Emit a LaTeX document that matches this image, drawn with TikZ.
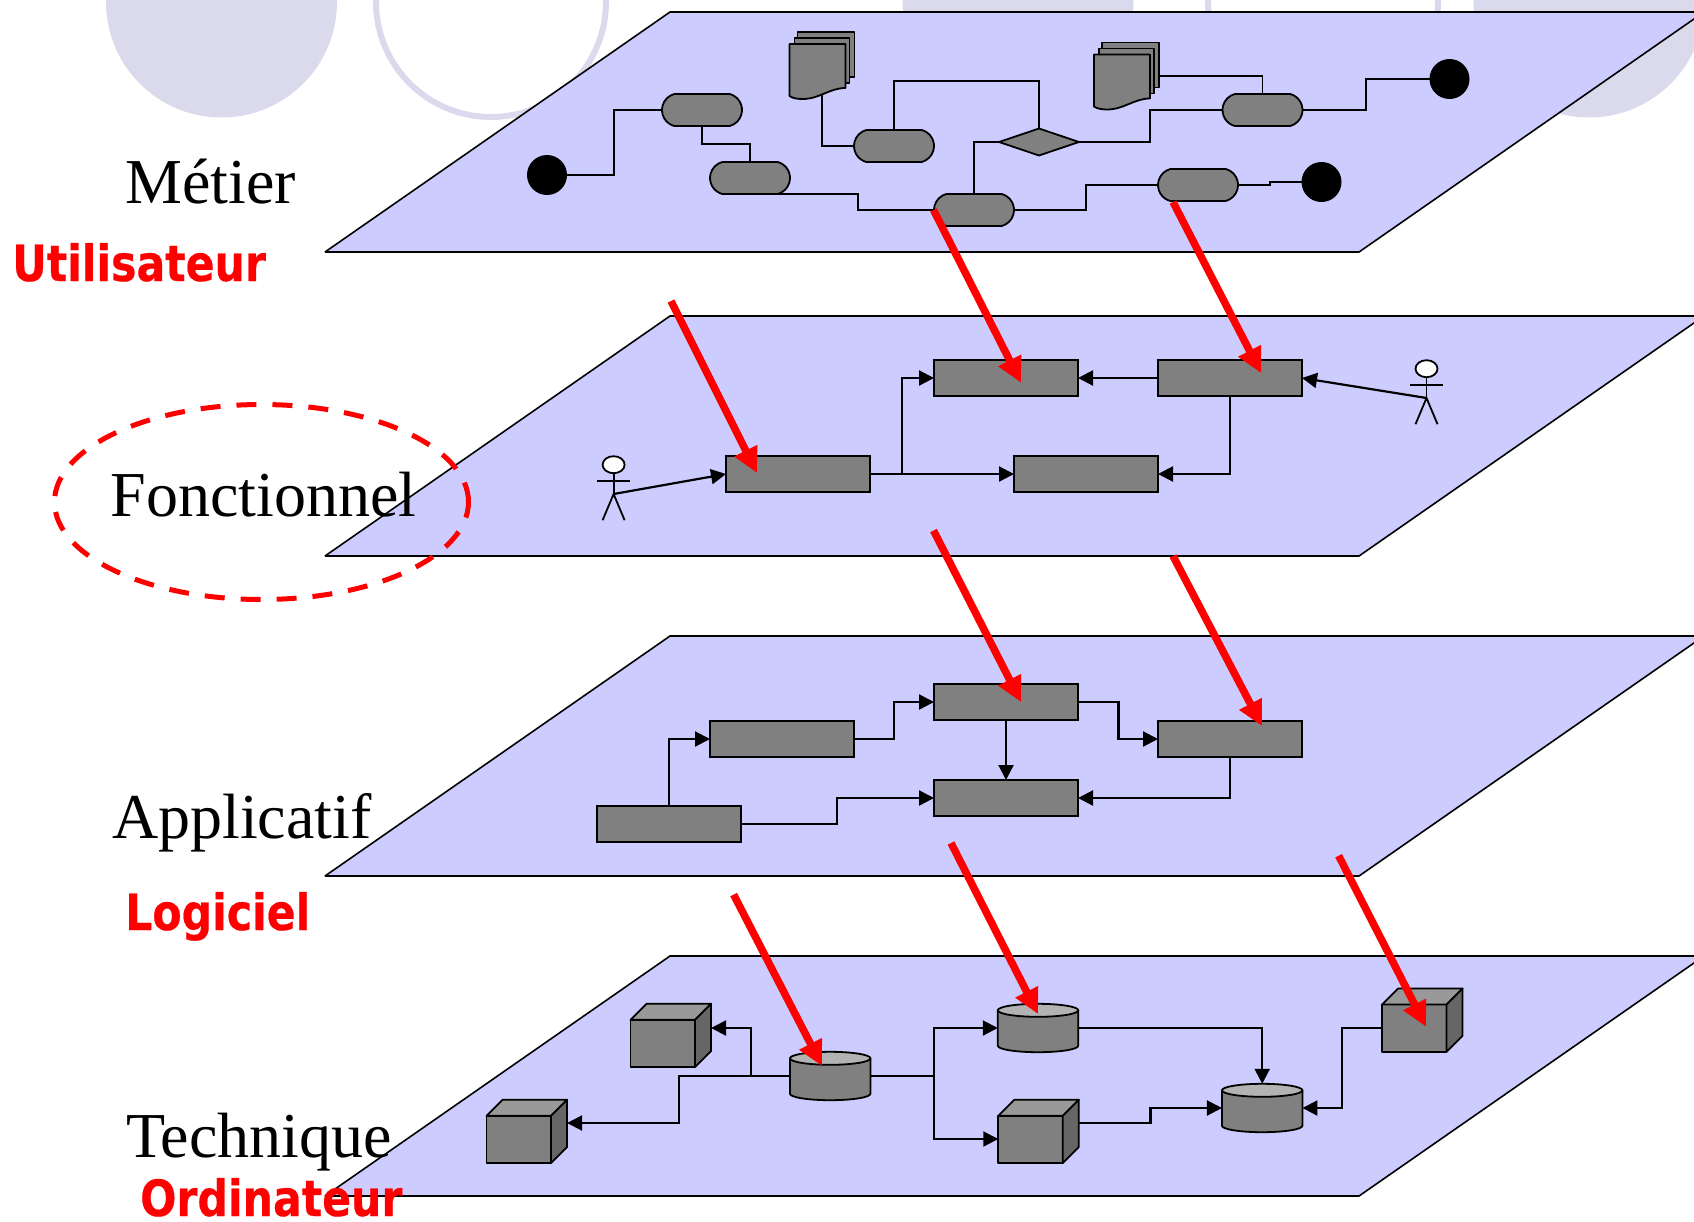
\documentclass[tikz,border=0pt]{standalone}
\usepackage{fontspec}
\setmainfont{Liberation Serif}
\newfontfamily\redfont[FakeStretch=0.853,FakeBold=0.4]{DejaVu Sans}
\usetikzlibrary{arrows.meta,calc,shapes.geometric,shapes.misc}
\definecolor{planeBlue}{HTML}{CCCCFF}
\definecolor{discBlue}{HTML}{DADAEC}
\definecolor{stepGrey}{HTML}{808080}
\definecolor{cylTop}{HTML}{B3B3B3}
\definecolor{cubeTop}{HTML}{999999}
\definecolor{cubeSide}{HTML}{666666}
\begin{document}
\begin{tikzpicture}
[x=1pt,y=-1pt,
  discDecorate/.style={fill=discBlue},
  ringDecorate/.style={draw=discBlue,line width=6pt},
  planeDecorate/.style={draw,fill=planeBlue,line width=1.6pt,line join=miter,miter limit=2},
  faceDecorate/.style={draw,line width=1.8pt,line join=round},
  boxDecorate/.style={shape=rectangle,draw,fill=stepGrey,line width=2pt,minimum width=144pt,minimum height=36pt,inner sep=0pt,outer sep=0pt},
  pillDecorate/.style={shape=rounded rectangle,rounded rectangle arc length=150,draw,fill=stepGrey,line width=1.8pt,minimum width=80pt,minimum height=32pt,inner sep=0pt,outer sep=0pt},
  dotDecorate/.style={shape=circle,fill=black,minimum size=40pt,inner sep=0pt,outer sep=0pt},
  gateDecorate/.style={shape=diamond,draw,fill=stepGrey,line width=1.8pt,minimum width=80pt,minimum height=27pt,inner sep=0pt,outer sep=0pt},
  frameDecorate/.style={shape=rectangle,minimum width=#1,inner sep=0pt,outer sep=0pt},
  headDecorate/.style={shape=ellipse,draw,fill=white,line width=1.8pt,minimum width=22pt,minimum height=17pt,inner sep=0pt,outer sep=0pt},
  lineDecorate/.style={-,line width=1.8pt},
  flowDecorate/.style={-{Triangle[length=15pt,width=15pt]},line width=2.2pt},
  redDecorate/.style={-{Triangle[length=25pt,width=24pt]},red,line width=7.5pt},
  nameDecorate/.style={anchor=base west,inner sep=0pt,font=\fontsize{64}{70}\selectfont},
  viewDecorate/.style={anchor=base west,inner sep=0pt,text=red,font=\redfont\bfseries\fontsize{50}{54}\selectfont}]
\useasboundingbox (0,0) rectangle (1694,1221);
\clip (0,0) rectangle (1694,1221);
%% discs behind the planes
\foreach \x in {221.5,1018,1589}
{
  \fill[discDecorate] (\x,2) circle[radius=115.5];
}
\foreach \x in {491,1323}
{
  \draw[ringDecorate] (\x,2) circle[radius=115];
}
%% planes
\foreach \dy in {0,304,624,944}
{
  \draw[planeDecorate] (670,12+\dy) -- (1704,12+\dy) -- (1359,252+\dy) -- (325,252+\dy) -- cycle;
}
%% first plane: frames, pills, dots
\foreach \docname/\x/\y in {doca/822/65.5, docb/1126.5/76}
{
  \node (\docname) at (\x,\y) [frameDecorate=65pt,minimum height=67pt] {};
}
\foreach \nodename/\x/\y in {
  pilla/702/110, pillb/750/178, pillc/974/210, pilld/1198/185,
  pille/894/146, pillf/1262.5/110}
{
  \node (\nodename) at (\x,\y) [pillDecorate] {};
}
\foreach \nodename/\x/\y in {dota/547/175, dotb/1321.5/182, dotc/1449.5/79}
{
  \node (\nodename) at (\x,\y) [dotDecorate] {};
}
\node (gate) at (1039,142) [gateDecorate] {};
\foreach \startnode/\xmid/\endnode in {
  dota.east/614/pilla.west, pillb.south/858/pillc.west,
  pillc.east/1086/pilld.west, pilld.east/1270/dotb.west,
  pillf.west/1150/gate.east, pillf.east/1366/dotc.west}
{
  \draw[lineDecorate] (\startnode) -| (\xmid,0 |- \endnode) -- (\endnode);
}
\draw[lineDecorate] (pilla.south) |- (pillb.north |- 0,144) -- (pillb.north);
\draw[lineDecorate] (gate.north) |- (pille.north |- 0,81) -- (pille.north);
\draw[lineDecorate] (pillc.north) |- (gate.west);
\draw[lineDecorate] (doca.center) |- (pille.west);
\draw[lineDecorate] (docb.center) -| (pillf.north);
\foreach \docname in {doca,docb}
{
  \begin{scope}[shift={(\docname.north west)}]
    \draw[faceDecorate,fill=stepGrey] (8,0) rectangle (65,45);
    \draw[faceDecorate,fill=stepGrey] (5,6) rectangle (60,51);
    \draw[faceDecorate,fill=stepGrey] (0,12) -- (56,12) -- (56,56)
      .. controls (40,56) and (30,67) .. (13,67)
      .. controls (7,67) and (3,66) .. (0,64) -- cycle;
  \end{scope}
}
%% second and third plane: boxes
\foreach \nodename/\x/\y in {
  boxa/798/474, boxb/1006/378, boxc/1230/378, boxd/1086/474,
  boxe/782/739, boxf/1006/702, boxg/1230/739, boxh/1006/798, boxi/669/824}
{
  \node (\nodename) at (\x,\y) [boxDecorate] {};
}
%% actors
\foreach \actorname/\x/\y in {actora/613.6/464.7, actorb/1426.5/368.7}
{
  \node (\actorname) at (\x,\y) [headDecorate] {};
  \coordinate (\actorname hip) at (\x,\y+29.3);
  \draw[lineDecorate] (\actorname.south) -- (\actorname hip);
  \draw[lineDecorate] (\x-16.5,\y+16) -- (\x+16.5,\y+16);
  \draw[lineDecorate] (\x-11,\y+55.5) -- (\actorname hip) -- (\x+11,\y+55.5);
}
%% edges of the second and third plane
\path
\foreach \startnode/\endnode in {
  actorahip/boxa.west, boxa.east/boxd.west, boxc.west/boxb.east,
  actorbhip/boxc.east, boxf.south/boxh.north}
{
  (\startnode) edge[flowDecorate] (\endnode)
};
\draw[flowDecorate] (boxa.east -| 902,0) |- (boxb.west);
\draw[flowDecorate] (boxc.south) |- (boxd.east);
\draw[flowDecorate] (boxi.north -| 669,0) |- (boxe.west);
\draw[flowDecorate] (boxg.south) |- (boxh.east);
\foreach \startnode/\xmid/\endnode in {
  boxi.east/837/boxh.west, boxe.east/894/boxf.west, boxf.east/1118.5/boxg.west}
{
  \draw[flowDecorate] (\startnode) -| (\xmid,0 |- \endnode) -- (\endnode);
}
%% fourth plane: cubes and cylinders
\foreach \nodename/\x/\y in {
  cubea/670.8/1035.4, cubeb/526.8/1131.4, cubec/1038.5/1131.4, cubed/1422.3/1020.2}
{
  \node (\nodename) at (\x,\y) [frameDecorate=80.5pt,minimum height=63.3pt] {};
  \begin{scope}[shift={(\nodename.north west)}]
    \draw[faceDecorate,fill=stepGrey] (0,16) rectangle (64.5,63.3);
    \draw[faceDecorate,fill=cubeTop] (0,16) -- (16,0) -- (80.5,0) -- (64.5,16) -- cycle;
    \draw[faceDecorate,fill=cubeSide] (64.5,16) -- (80.5,0) -- (80.5,47.3) -- (64.5,63.3) -- cycle;
  \end{scope}
}
\foreach \nodename/\x/\y in {cyla/830.2/1076, cylb/1038/1028, cylc/1262.2/1108}
{
  \node (\nodename) at (\x,\y) [frameDecorate=80.5pt,minimum height=48.4pt] {};
  \begin{scope}[shift={(\nodename.north west)}]
    \draw[faceDecorate,fill=stepGrey] (0,6.5) -- (0,41.9) arc[start angle=180,end angle=360,x radius=40.25,y radius=-6.5]
      -- (80.5,6.5) -- cycle;
    \draw[faceDecorate,fill=cylTop] (40.25,6.5) ellipse[x radius=40.25,y radius=6.5];
  \end{scope}
}
%% edges of the fourth plane
\coordinate (splitleft) at (751,1076);
\coordinate (splitright) at (934,1076);
\coordinate (cubedport) at ($(cubed.west)+(0,8)$);
\coordinate (cubebport) at ($(cubeb.east)+(0,-8.4)$);
\coordinate (cubecport) at ($(cubec.east)+(0,-8.4)$);
\coordinate (cubecwest) at ($(cubec.west)+(0,7.6)$);
\coordinate (cubeaport) at ($(cubea.east)+(0,-7.4)$);
\draw[flowDecorate] (cyla.west) -| (679,0 |- cubebport) -- (cubebport);
\draw[flowDecorate] (splitleft) |- (cubeaport);
\draw[flowDecorate] (cyla.east) -- (splitright) |- (cylb.west);
\draw[flowDecorate] (splitright) |- (cubecwest);
\draw[flowDecorate] (cylb.east) -| (cylc.north);
\draw[flowDecorate] (cubecport) -| (1150.5,0 |- cylc.west) -- (cylc.west);
\draw[flowDecorate] (cubedport) -| (1342,0 |- cylc.east) -- (cylc.east);
%% labels
\foreach \nodename/\x/\y/\nodetext in {
  metier/125/203/Métier, fonctionnel/110.7/516/Fonctionnel,
  applicatif/112/838/Applicatif, technique/126/1157/Technique}
{
  \node (\nodename) at (\x,\y) [nameDecorate] {\nodetext};
}
\foreach \nodename/\x/\y/\nodetext in {
  utilisateur/12/281/Utilisateur, logiciel/125/930/Logiciel, ordinateur/140/1216/Ordinateur}
{
  \node (\nodename) at (\x,\y) [viewDecorate] {\nodetext};
}
%% red ellipse and red arrows
\node (circled) at (261.5,502) [shape=ellipse,draw=red,line width=5pt,dash pattern=on 20pt off 16pt,minimum width=414pt,minimum height=195pt,inner sep=0pt] {};
\foreach \arrowname/\xa/\ya/\xb/\yb in {
  a/933.5/210/1021/382.7, b/1173/202/1261/373, c/671/301/757/473,
  d/933.5/530.5/1021/702, e/1173/556/1262/726, f/951/843/1038/1014,
  g/733.6/894.6/822/1066, h/1338.6/855.7/1426/1026.7}
{
  \coordinate (from\arrowname) at (\xa,\ya);
  \coordinate (to\arrowname) at (\xb,\yb);
  \draw[redDecorate] (from\arrowname) -- (to\arrowname);
}
\end{tikzpicture}
\end{document}
